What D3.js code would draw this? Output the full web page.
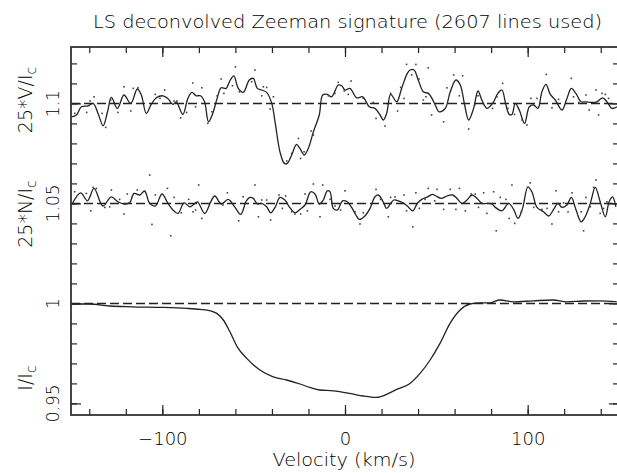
<!DOCTYPE html>
<html><head><meta charset="utf-8">
<script src="https://cdn.jsdelivr.net/npm/d3@7"></script>
<style>
html,body{margin:0;padding:0;background:#fff;}
svg{display:block;}
text{font-family:"DejaVu Sans",sans-serif;font-weight:300;fill:#000;}
</style></head>
<body>
<svg id="chart" width="617" height="473"></svg>
<script>
// ---- Data ----
const titleText = "LS deconvolved Zeeman signature (2607 lines used)";
const xLabel = "Velocity (km/s)";
const xMajorTicks = [-100, 0, 100];
const xMinorTicks = [-140,-120,-100,-80,-60,-40,-20,0,20,40,60,80,100,120,140];
const yMajorTicks = [0.95, 1.00, 1.05, 1.10];
const yMajorLabels = ["0.95", "1", "1.05", "1.1"];
const yMinorTicks = [0.95,0.96,0.97,0.98,0.99,1.00,1.01,1.02,1.03,1.04,1.05,1.06,1.07,1.08,1.09,1.10,1.11,1.12];
const refLevels = [1.0, 1.05, 1.1];

// Stokes V (25*V/Ic shifted to 1.1) – smoothed line
const vVel = [-149.8,-147,-144.3,-140.6,-137.9,-135.2,-132.4,-130,-127.9,-124.6,-121,-117.3,-113.7,-111.5,-108.8,-106.1,-103.3,-99.7,-97,-94.2,-92.4,-88.8,-86,-83.8,-81.5,-79.1,-76.9,-74.7,-72.4,-70,-67.8,-65.1,-63.3,-60.9,-58.4,-55.7,-52.4,-50.2,-48,-45.6,-42.9,-40.1,-38.3,-35.6,-33.2,-31.6,-29.2,-26.5,-24.7,-22.3,-20.1,-17.3,-14.1,-12.2,-9.7,-7.3,-3.7,-1.8,0,2.7,6.4,9.7,13.3,16.4,19.2,21,22.8,25,28.3,31,34.1,35.6,37.8,40.1,42.9,45.6,47.6,49.4,51.6,54.9,57.6,60.7,63.1,65.5,67.7,70.4,72.8,74.9,77.7,80.8,83.7,85.9,88.1,89.9,91.4,93.2,95.4,98.3,100.9,103.3,105.6,107.8,110,112.4,115.1,118.8,121.5,123.9,126.4,129.3,131.9,134.8,137.9,141,143.4,146.1,148.9];
const vLine = [1.0933,1.0942,1.0983,1.0988,1.1000,1.0950,1.0888,1.0958,1.1030,1.0975,1.1042,1.1000,1.1072,1.1042,1.0950,1.0995,1.1028,1.1038,1.1025,1.0995,1.1008,1.0945,1.1025,1.1055,1.1038,1.1038,1.1008,1.0908,1.0950,1.1025,1.1078,1.1075,1.1108,1.1138,1.1075,1.1055,1.1117,1.1125,1.1075,1.1067,1.1055,1.1000,1.0908,1.0758,1.0700,1.0700,1.0742,1.0795,1.0775,1.0742,1.0775,1.0858,1.0942,1.1042,1.1045,1.1033,1.1092,1.1088,1.1067,1.1075,1.1028,1.1033,1.0983,1.0975,1.0942,1.0917,1.0950,1.1045,1.1008,1.1075,1.1150,1.1167,1.1167,1.1117,1.1058,1.1050,1.1025,1.0992,1.0958,1.0975,1.1058,1.1117,1.1092,1.0992,1.0917,1.0975,1.1062,1.1017,1.0975,1.1000,1.1050,1.1067,1.0992,1.0945,1.0945,1.1000,1.0967,1.0900,1.0983,1.0992,1.0975,1.1058,1.1095,1.1045,1.1017,1.0967,1.1025,1.1075,1.1050,1.1008,1.1008,1.1005,1.1008,1.1028,1.1008,1.0975,1.0983];
// Stokes V raw points
const vDotVel = [-147.9,-141.4,-139.6,-137.4,-133,-131,-128.3,-124.3,-121,-117.3,-115.9,-113.3,-103.9,-101.3,-98.7,-93.6,-92,-90,-86.7,-83.3,-81.8,-78.4,-75.1,-72.9,-70,-67.8,-66.3,-61.6,-60,-57.8,-51.1,-49.3,-45.6,-44.7,-42.9,-41,-39.2,-31.9,-29.2,-25.5,-24.3,-22.4,-18.6,-17.3,-9.1,-5.5,-3.7,-0.4,1.8,3.3,10,15.5,17,21.9,25,28.8,30.5,32.3,33.7,36.5,38.8,40.5,42.9,44.3,45.6,47.4,54,55.8,59.5,62.6,64.4,67.7,71,72.8,75.9,80.8,83.2,86.3,89.2,92.8,96.9,99.6,101.8,105.1,106,110.2,113.3,116.9,123.9,125.1,127.9,131.9,133.7,137.4,138.8,140.7,142.5,144.3];
const vDots = [1.0950,1.0955,1.1012,1.1033,1.0950,1.0880,1.1017,1.0955,1.1083,1.0962,1.1075,1.1078,1.1045,1.1025,1.1067,1.1012,1.1012,1.0928,1.0955,1.1102,1.0983,1.1078,1.0900,1.0958,1.1038,1.1122,1.1050,1.1088,1.1183,1.1058,1.1108,1.1167,1.1038,1.1083,1.1080,1.0972,1.1033,1.0712,1.0750,1.0825,1.0725,1.0758,1.0862,1.0842,1.1038,1.1050,1.1105,1.1062,1.1045,1.1112,1.1025,1.1005,1.0925,1.0887,1.1050,1.0962,1.1080,1.1025,1.1195,1.1142,1.1195,1.1122,1.1017,1.1033,1.1178,1.0942,1.0908,1.1078,1.1142,1.1038,1.1138,1.0872,1.0992,1.1038,1.0995,1.0975,1.1033,1.1100,1.0975,1.0945,1.0917,1.0892,1.1025,1.1025,1.0983,1.1145,1.0978,1.1020,1.1125,1.1033,1.1005,1.1042,1.0967,1.1067,1.0942,1.1050,1.1045,1.1025];

// Null N (25*N/Ic shifted to 1.05) – smoothed line
const nVel = [-149.4,-144.7,-141,-137.4,-132.5,-128,-124.3,-121,-117.9,-115.5,-112.4,-109.7,-106.9,-103.8,-100.2,-96.9,-94.2,-91.4,-88.1,-85,-83.2,-80.8,-76.8,-73.5,-71.3,-67.7,-64,-60.4,-57.1,-54,-52,-50.2,-48,-45.6,-42.9,-40.7,-38.3,-35.6,-32.9,-30.5,-27.4,-24.7,-21.9,-18.8,-16.4,-14.1,-11.9,-9.7,-8.2,-6.4,-4.2,-1.3,1.3,3.6,6,7.8,10.9,13.7,16.4,18.2,20.6,22.8,25,26.8,29.2,31.6,34.1,37.1,39.6,42,44.7,47.8,49.8,52.7,55.8,58.9,61.3,64,66.8,69.5,72.3,75,77.7,80.4,82.3,85.9,89.6,92.3,94.7,97.2,100.1,102.3,105.1,108.7,111.5,114.2,116.6,118.8,121.5,123.9,126.4,129.3,131.5,134.3,137,139.7,142.5,144.6,146.5,148.3];
const nLine = [1.0497,1.0553,1.0513,1.0575,1.0487,1.0533,1.0508,1.0497,1.0503,1.0550,1.0542,1.0562,1.0500,1.0487,1.0547,1.0500,1.0467,1.0450,1.0503,1.0483,1.0492,1.0508,1.0450,1.0508,1.0537,1.0497,1.0520,1.0483,1.0445,1.0513,1.0530,1.0525,1.0497,1.0500,1.0483,1.0453,1.0480,1.0530,1.0517,1.0483,1.0453,1.0470,1.0492,1.0558,1.0547,1.0497,1.0517,1.0563,1.0558,1.0475,1.0467,1.0513,1.0508,1.0480,1.0442,1.0420,1.0437,1.0475,1.0533,1.0542,1.0513,1.0475,1.0500,1.0517,1.0513,1.0503,1.0487,1.0463,1.0500,1.0520,1.0530,1.0545,1.0537,1.0525,1.0537,1.0542,1.0525,1.0500,1.0517,1.0542,1.0525,1.0500,1.0500,1.0497,1.0480,1.0463,1.0500,1.0470,1.0425,1.0475,1.0583,1.0558,1.0480,1.0458,1.0437,1.0470,1.0500,1.0480,1.0492,1.0530,1.0470,1.0408,1.0433,1.0500,1.0580,1.0508,1.0433,1.0508,1.0533,1.0483];
// Null N raw points
const nDotVel = [-148,-141.6,-139.2,-137.9,-136.1,-131.5,-128.8,-127.9,-123.4,-121,-119.2,-113.7,-106.9,-105.7,-103.8,-97.2,-95.4,-93.6,-89.6,-85.6,-83.2,-81.8,-80.1,-78.4,-66.8,-64.4,-58.2,-55.8,-49.3,-47.4,-45.6,-42.9,-40.7,-36.1,-34.3,-32.5,-29.2,-27.4,-24.3,-21.9,-20.6,-17.3,-13.7,-12.2,-8.2,-5.5,-2.4,0,5.5,8.2,10,17,19.5,23.7,25,27.4,32.3,33.7,37.1,38.8,40.7,43.8,45.6,49.1,50.4,54,57.6,60.7,62.6,65.9,69.1,71.3,73.1,75.9,77.7,81.4,82.8,85,88.1,89.9,91.4,92.9,96.5,101.4,103.3,107.8,110.6,113.3,115.5,116.9,119.7,122.1,124.3,129.3,130.6,131.9,134.3,136.1,137.4,139.7,141.5,143.4];
const nDots = [1.0558,1.0550,1.0463,1.0580,1.0575,1.0480,1.0483,1.0567,1.0520,1.0447,1.0547,1.0567,1.0642,1.0395,1.0542,1.0575,1.0338,1.0530,1.0453,1.0520,1.0458,1.0467,1.0592,1.0425,1.0492,1.0553,1.0413,1.0533,1.0592,1.0433,1.0517,1.0517,1.0417,1.0542,1.0475,1.0537,1.0458,1.0447,1.0447,1.0547,1.0463,1.0597,1.0433,1.0592,1.0520,1.0487,1.0467,1.0563,1.0458,1.0397,1.0453,1.0570,1.0520,1.0433,1.0530,1.0533,1.0542,1.0463,1.0383,1.0553,1.0475,1.0520,1.0575,1.0513,1.0570,1.0470,1.0570,1.0470,1.0575,1.0463,1.0547,1.0547,1.0480,1.0553,1.0450,1.0558,1.0363,1.0530,1.0520,1.0425,1.0592,1.0400,1.0458,1.0603,1.0480,1.0470,1.0475,1.0397,1.0563,1.0458,1.0503,1.0458,1.0553,1.0458,1.0363,1.0530,1.0483,1.0580,1.0617,1.0450,1.0475,1.0508];

// Stokes I/Ic
const iVel = [-150,-140,-129,-116.3,-99.5,-86.7,-79.4,-73.6,-70.2,-66.6,-63,-59,-53.8,-46.6,-39.3,-32,-24.7,-19.2,-13.8,-6.4,2.7,10,17.3,22.8,28.3,35.6,41.1,46.6,52,57.5,63,68.4,73.9,79.4,84.8,92.1,103.1,114,121.3,130.4,139.5,148.8];
const iLine = [0.9997,0.9997,0.9987,0.9983,0.9980,0.9975,0.9970,0.9963,0.9950,0.9917,0.9858,0.9783,0.9725,0.9667,0.9633,0.9617,0.9597,0.9580,0.9567,0.9563,0.9550,0.9537,0.9530,0.9545,0.9570,0.9600,0.9650,0.9717,0.9800,0.9900,0.9967,0.9997,1.0003,1.0003,1.0017,1.0008,1.0013,1.0017,1.0008,1.0012,1.0013,1.0008];

// ---- Drawing ----
const svg = d3.select("#chart");
const X0 = 71, X1 = 619, Y0 = 47, Y1 = 415;
const x = d3.scaleLinear().domain([-150, 150]).range([X0, X1]);
const y = d3.scaleLinear().domain([0.9442, 1.1282]).range([Y1, Y0]);
const ink = "#222";

const plot = svg.append("g");

// reference dashed lines
plot.selectAll("line.ref").data(refLevels).join("line")
  .attr("x1", X0).attr("x2", X1)
  .attr("y1", d => y(d)).attr("y2", d => y(d))
  .attr("stroke", ink).attr("stroke-width", 1.5).attr("stroke-dasharray", "9,4");

const zip = (a, b) => a.map((v, i) => [v, b[i]]);
const lineGen = d3.line().x(d => x(d[0])).y(d => y(d[1])).curve(d3.curveCatmullRom.alpha(0.5));
const lineI = d3.line().x(d => x(d[0])).y(d => y(d[1])).curve(d3.curveMonotoneX);

plot.append("path").datum(zip(vVel, vLine)).attr("d", lineGen)
  .attr("fill", "none").attr("stroke", ink).attr("stroke-width", 1.3);
plot.append("path").datum(zip(nVel, nLine)).attr("d", lineGen)
  .attr("fill", "none").attr("stroke", ink).attr("stroke-width", 1.3);
plot.append("path").datum(zip(iVel, iLine)).attr("d", lineI)
  .attr("fill", "none").attr("stroke", ink).attr("stroke-width", 1.3);

const dots = zip(vDotVel, vDots).concat(zip(nDotVel, nDots));
plot.selectAll("rect.dot").data(dots).join("rect")
  .attr("x", d => x(d[0]) - 0.8).attr("y", d => y(d[1]) - 0.8)
  .attr("width", 1.6).attr("height", 1.6).attr("fill", "#444");

// axes (ticks inward)
function styleAxis(g){
  g.select(".domain").remove();
  g.selectAll(".tick line").attr("stroke", ink).attr("stroke-width", 1.2);
}
svg.append("g").attr("transform", `translate(0,${Y1})`)
  .call(d3.axisBottom(x).tickValues(xMinorTicks).tickSize(-6).tickFormat("")).call(styleAxis);
svg.append("g").attr("transform", `translate(0,${Y0})`)
  .call(d3.axisTop(x).tickValues(xMinorTicks).tickSize(-6).tickFormat("")).call(styleAxis);
const xb = svg.append("g").attr("transform", `translate(0,${Y1})`)
  .call(d3.axisBottom(x).tickValues(xMajorTicks).tickSize(-10).tickPadding(17)
    .tickFormat(d3.format("d"))).call(styleAxis);
xb.selectAll("text").attr("font-size", 18).attr("fill", "#000")
  .attr("font-family", "DejaVu Sans, sans-serif").attr("font-weight", 300);
svg.append("g").attr("transform", `translate(0,${Y0})`)
  .call(d3.axisTop(x).tickValues(xMajorTicks).tickSize(-10).tickFormat("")).call(styleAxis);

svg.append("g").attr("transform", `translate(${X0},0)`)
  .call(d3.axisLeft(y).tickValues(yMinorTicks).tickSize(-6).tickFormat("")).call(styleAxis);
svg.append("g").attr("transform", `translate(${X0},0)`)
  .call(d3.axisLeft(y).tickValues(yMajorTicks).tickSize(-10).tickFormat("")).call(styleAxis);
svg.append("g").attr("transform", `translate(${X1},0)`)
  .call(d3.axisRight(y).tickValues(yMinorTicks).tickSize(-6).tickFormat("")).call(styleAxis);
svg.append("g").attr("transform", `translate(${X1},0)`)
  .call(d3.axisRight(y).tickValues(yMajorTicks).tickSize(-10).tickFormat("")).call(styleAxis);

// frame
svg.append("rect").attr("x", X0).attr("y", Y0).attr("width", X1 - X0).attr("height", Y1 - Y0)
  .attr("fill", "none").attr("stroke", "#333").attr("stroke-width", 1.8);

// y tick labels (rotated)
svg.selectAll("text.ylab").data(yMajorTicks).join("text")
  .attr("transform", d => `translate(58.5,${y(d)}) rotate(-90)`)
  .attr("text-anchor", "middle").attr("font-size", 17)
  .text((d, i) => yMajorLabels[i]);

// y axis titles
const yTitles = [
  {main: "25*V/I", sub: "c", pos: 100},
  {main: "25*N/I", sub: "c", pos: 214},
  {main: "I/I", sub: "c", pos: 378}
];
yTitles.forEach(t => {
  const tx = svg.append("text")
    .attr("transform", `translate(31.5,${t.pos}) rotate(-90)`)
    .attr("text-anchor", "middle").attr("font-size", 19);
  tx.append("tspan").text(t.main);
  tx.append("tspan").attr("dy", "0.3em").attr("font-size", 14).text(t.sub);
});

// title and x label
svg.append("text").attr("x", 347.5).attr("y", 28).attr("text-anchor", "middle")
  .attr("font-size", 18).attr("textLength", 509).attr("lengthAdjust", "spacingAndGlyphs")
  .text(titleText);
svg.append("text").attr("x", 344).attr("y", 466).attr("text-anchor", "middle")
  .attr("font-size", 18).attr("textLength", 143).attr("lengthAdjust", "spacingAndGlyphs")
  .text(xLabel);
</script>
</body></html>
